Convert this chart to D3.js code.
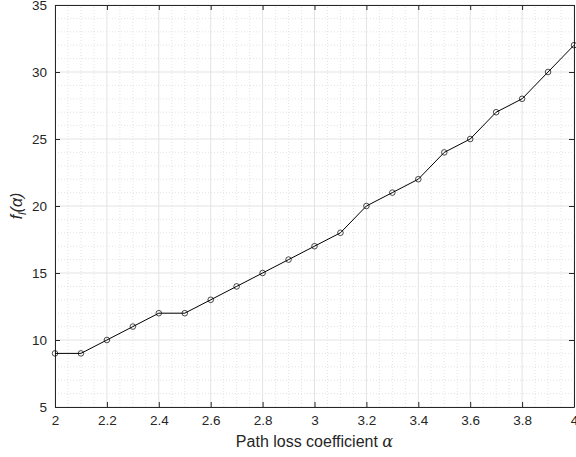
<!DOCTYPE html>
<html><head><meta charset="utf-8">
<script src="https://cdn.jsdelivr.net/npm/d3@7"></script>
<style>body{margin:0;background:#fff}svg{display:block}text{font-family:"Liberation Sans",Arial,sans-serif}</style>
</head><body>
<script>
const xValues = [2.0,2.1,2.2,2.3,2.4,2.5,2.6,2.7,2.8,2.9,3.0,3.1,3.2,3.3,3.4,3.5,3.6,3.7,3.8,3.9,4.0];
const yValues = [9,9,10,11,12,12,13,14,15,16,17,18,20,21,22,24,25,27,28,30,32];
const xTicks = [2,2.2,2.4,2.6,2.8,3,3.2,3.4,3.6,3.8,4];
const yTicks = [5,10,15,20,25,30,35];

const W=576,H=457;
const m={l:55,r:2,t:5,b:50};
const svg=d3.select("body").append("svg").attr("width",W).attr("height",H);
const x=d3.scaleLinear().domain([2,4]).range([m.l,W-m.r]);
const y=d3.scaleLinear().domain([5,35]).range([H-m.b,m.t]);
const g=svg.append("g");
// minor grid
const xMinor=d3.range(2,4.0001,0.05).filter(v=>Math.abs(v/0.2-Math.round(v/0.2))>1e-6);
const yMinor=d3.range(5,35.001,1).filter(v=>v%5!==0);
g.selectAll(".xm").data(xMinor).join("line").attr("x1",d=>x(d)).attr("x2",d=>x(d)).attr("y1",y(5)).attr("y2",y(35))
 .attr("stroke","#d0d0d0").attr("stroke-width",0.6).attr("stroke-dasharray","1,2");
g.selectAll(".ym").data(yMinor).join("line").attr("y1",d=>y(d)).attr("y2",d=>y(d)).attr("x1",x(2)).attr("x2",x(4))
 .attr("stroke","#d0d0d0").attr("stroke-width",0.6).attr("stroke-dasharray","1,2");
// major grid
g.selectAll(".xg").data(xTicks).join("line").attr("x1",d=>x(d)).attr("x2",d=>x(d)).attr("y1",y(5)).attr("y2",y(35))
 .attr("stroke","#e3e3e3").attr("stroke-width",1);
g.selectAll(".yg").data(yTicks).join("line").attr("y1",d=>y(d)).attr("y2",d=>y(d)).attr("x1",x(2)).attr("x2",x(4))
 .attr("stroke","#e3e3e3").attr("stroke-width",1);
// axes
const ax=(sel)=>sel.selectAll("text").attr("font-size",13.5).attr("fill","#262626");
const fmt=d3.format("~g");
svg.append("g").attr("transform",`translate(0,${y(5)})`).call(d3.axisBottom(x).tickValues(xTicks).tickFormat(fmt).tickSizeInner(-5).tickSizeOuter(0).tickPadding(8)).call(ax);
svg.append("g").attr("transform",`translate(0,${y(35)})`).call(d3.axisTop(x).tickValues(xTicks).tickFormat("").tickSizeInner(-5).tickSizeOuter(0));
svg.append("g").attr("transform",`translate(${x(2)},0)`).call(d3.axisLeft(y).tickValues(yTicks).tickFormat(fmt).tickSizeInner(-5).tickSizeOuter(0).tickPadding(8)).call(ax);
svg.append("g").attr("transform",`translate(${x(4)},0)`).call(d3.axisRight(y).tickValues(yTicks).tickFormat("").tickSizeInner(-5).tickSizeOuter(0));
svg.selectAll(".domain,.tick line").attr("stroke","#262626");
// line
const pts=xValues.map((v,i)=>[v,yValues[i]]);
svg.append("path").datum(pts).attr("fill","none").attr("stroke","#000").attr("stroke-width",1)
 .attr("d",d3.line().x(d=>x(d[0])).y(d=>y(d[1])));
svg.selectAll(".pt").data(pts).join("circle").attr("cx",d=>x(d[0])).attr("cy",d=>y(d[1])).attr("r",2.8)
 .attr("fill","none").attr("stroke","#000").attr("stroke-width",0.7);
// labels
svg.append("text").attr("x",(x(2)+x(4))/2).attr("y",447).attr("text-anchor","middle").attr("font-size",16).attr("fill","#262626")
 .html('Path loss coefficient <tspan font-family="DejaVu Serif" font-style="italic">α</tspan>');
svg.append("text").attr("transform",`translate(22,${(y(5)+y(35))/2}) rotate(-90)`).attr("text-anchor","middle").attr("font-size",16).attr("fill","#262626")
 .attr("font-family","DejaVu Serif").attr("font-style","italic")
 .html('f<tspan font-size="11" dy="4">l</tspan><tspan dy="-4">(α)</tspan>');
</script>
</body></html>
